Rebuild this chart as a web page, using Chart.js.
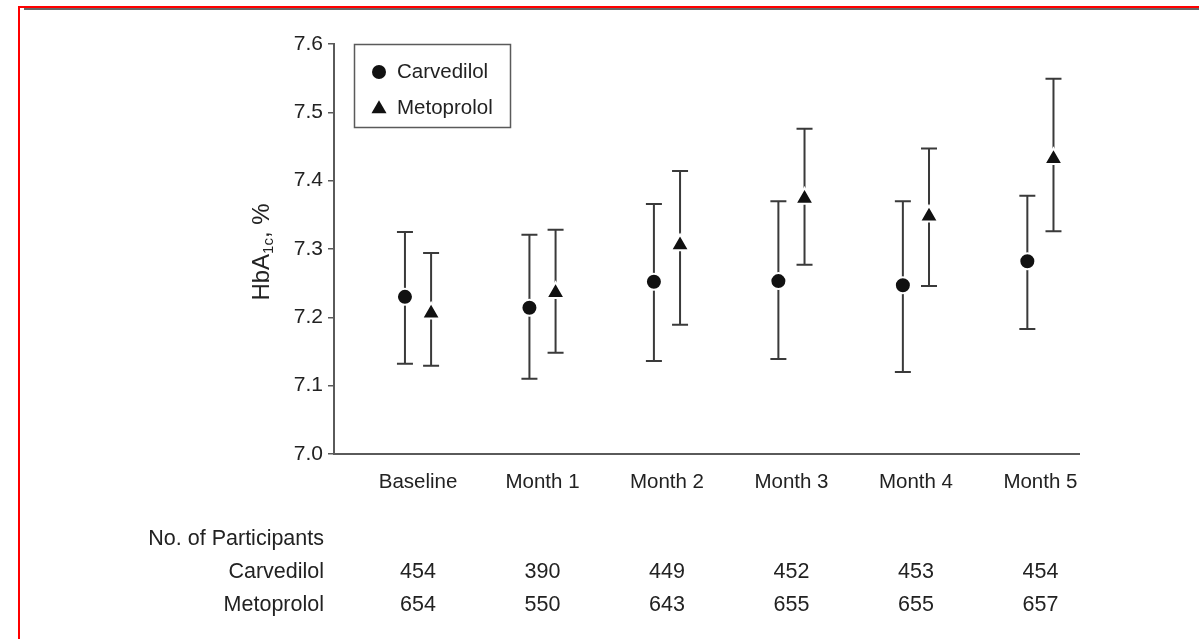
<!DOCTYPE html>
<html>
<head>
<meta charset="utf-8">
<script src="https://cdn.jsdelivr.net/npm/chart.js@4.4.1/dist/chart.umd.min.js"></script>
<style>
  html, body { margin: 0; padding: 0; background: #fff; }
  #wrap { position: relative; width: 1199px; height: 639px; overflow: hidden; }
  canvas { position: absolute; left: 0; top: 0; }
  #frame { position: absolute; left: 18px; top: 6px; right: -4px; bottom: -4px; border-top: 2px solid #f00; border-left: 2px solid #f00; pointer-events: none; }
  #rule { position: absolute; left: 24px; top: 8px; right: 0; height: 2px; background: #666; }
</style>
</head>
<body>
<div id="wrap">
  <canvas id="chart" width="1199" height="639"></canvas>
  <div id="frame"></div>
  <div id="rule"></div>
</div>
<script>
// categories and axis ticks
const categories = ['Baseline', 'Month 1', 'Month 2', 'Month 3', 'Month 4', 'Month 5'];
const yTicks = [7.0, 7.1, 7.2, 7.3, 7.4, 7.5, 7.6];

// HbA1c mean and 95% CI
const carvMean = [7.230, 7.214, 7.252, 7.253, 7.247, 7.282];
const carvLow  = [7.132, 7.110, 7.136, 7.139, 7.120, 7.183];
const carvHigh = [7.325, 7.321, 7.366, 7.370, 7.370, 7.378];

const metoMean = [7.206, 7.236, 7.306, 7.374, 7.348, 7.432];
const metoLow  = [7.129, 7.148, 7.189, 7.277, 7.246, 7.326];
const metoHigh = [7.294, 7.328, 7.414, 7.476, 7.447, 7.549];

// participants per visit
const carvN = [454, 390, 449, 452, 453, 454];
const metoN = [654, 550, 643, 655, 655, 657];

const FONT = '"Liberation Sans", Arial, Helvetica, sans-serif';
const INK = '#222';
const AXIS = '#5a5a5a';
const pairOffset = 0.105;

// whiskers with caps, drawn under the markers
const errorBars = {
  id: 'errorBars',
  beforeDatasetsDraw(chart) {
    const { ctx } = chart;
    const y = chart.scales.y;
    ctx.save();
    ctx.strokeStyle = '#3a3a3a';
    ctx.lineWidth = 2;
    chart.data.datasets.forEach((ds, di) => {
      const meta = chart.getDatasetMeta(di);
      meta.data.forEach((pt, i) => {
        const top = y.getPixelForValue(ds.errHigh[i]);
        const bot = y.getPixelForValue(ds.errLow[i]);
        ctx.beginPath();
        ctx.moveTo(pt.x, top); ctx.lineTo(pt.x, bot);
        ctx.moveTo(pt.x - 8, top); ctx.lineTo(pt.x + 8, top);
        ctx.moveTo(pt.x - 8, bot); ctx.lineTo(pt.x + 8, bot);
        ctx.stroke();
      });
    });
    ctx.restore();
  }
};

// boxed legend in the top-left of the plot
const boxLegend = {
  id: 'boxLegend',
  afterDraw(chart) {
    const { ctx, chartArea } = chart;
    const x = chartArea.left + 20, y = chartArea.top;
    ctx.save();
    ctx.strokeStyle = AXIS;
    ctx.lineWidth = 1.5;
    ctx.strokeRect(x + 0.5, y + 0.5, 156, 83);
    ctx.fillStyle = '#111';
    // circle
    ctx.beginPath();
    ctx.arc(x + 25, y + 28, 7, 0, Math.PI * 2);
    ctx.fill();
    // triangle
    const tx = x + 25, ty = y + 65, r = 8.7;
    ctx.beginPath();
    ctx.moveTo(tx, ty - r);
    ctx.lineTo(tx + r * 0.866, ty + r / 2);
    ctx.lineTo(tx - r * 0.866, ty + r / 2);
    ctx.closePath();
    ctx.fill();
    ctx.fillStyle = INK;
    ctx.font = '20.5px ' + FONT;
    ctx.textBaseline = 'middle';
    ctx.textAlign = 'left';
    chart.data.datasets.forEach((ds, i) => {
      ctx.fillText(ds.label, x + 43, y + 28 + i * 36);
    });
    ctx.restore();
  }
};

// rotated y title with subscript
const yTitle = {
  id: 'yTitle',
  afterDraw(chart) {
    const { ctx } = chart;
    const parts = [
      { t: 'HbA', f: '24px ' + FONT, dy: 0 },
      { t: '1c', f: '15px ' + FONT, dy: 7 },
      { t: ', %', f: '24px ' + FONT, dy: 0 }
    ];
    ctx.save();
    ctx.translate(262, 252);
    ctx.rotate(-Math.PI / 2);
    ctx.fillStyle = INK;
    ctx.textBaseline = 'middle';
    ctx.textAlign = 'left';
    let total = 0;
    parts.forEach(p => { ctx.font = p.f; p.w = ctx.measureText(p.t).width; total += p.w; });
    let cx = -total / 2;
    parts.forEach(p => { ctx.font = p.f; ctx.fillText(p.t, cx, p.dy); cx += p.w; });
    ctx.restore();
  }
};

// participants table under the x axis
const countTable = {
  id: 'countTable',
  afterDraw(chart) {
    const { ctx } = chart;
    const xs = chart.scales.x;
    ctx.save();
    ctx.fillStyle = INK;
    ctx.font = '21.5px ' + FONT;
    ctx.textBaseline = 'middle';
    ctx.textAlign = 'right';
    ctx.fillText('No. of Participants', 324, 539);
    ctx.fillText('Carvedilol', 324, 572);
    ctx.fillText('Metoprolol', 324, 605);
    ctx.textAlign = 'center';
    categories.forEach((c, i) => {
      const px = xs.getPixelForValue(i);
      ctx.fillText(String(carvN[i]), px, 572);
      ctx.fillText(String(metoN[i]), px, 605);
    });
    ctx.restore();
  }
};

new Chart(document.getElementById('chart'), {
  type: 'scatter',
  data: {
    datasets: [
      {
        label: 'Carvedilol',
        data: carvMean.map((v, i) => ({ x: i - pairOffset, y: v })),
        errLow: carvLow,
        errHigh: carvHigh,
        pointStyle: 'circle',
        pointRadius: 8,
        backgroundColor: '#111',
        borderColor: '#fff',
        borderWidth: 2
      },
      {
        label: 'Metoprolol',
        data: metoMean.map((v, i) => ({ x: i + pairOffset, y: v })),
        errLow: metoLow,
        errHigh: metoHigh,
        pointStyle: 'triangle',
        pointRadius: 10.5,
        backgroundColor: '#111',
        borderColor: '#fff',
        borderWidth: 2
      }
    ]
  },
  options: {
    responsive: false,
    animation: false,
    events: [],
    layout: { padding: { left: 0, top: 44, right: 120, bottom: 0 } },
    plugins: {
      legend: { display: false },
      tooltip: { enabled: false }
    },
    scales: {
      x: {
        type: 'linear',
        min: -0.675,
        max: 5.31,
        afterBuildTicks: s => { s.ticks = categories.map((c, i) => ({ value: i })); },
        afterFit: s => { s.height = 185; },
        grid: { display: false, drawTicks: false },
        border: { display: true, color: AXIS, width: 2 },
        ticks: {
          autoSkip: false,
          maxRotation: 0,
          padding: 16,
          color: INK,
          font: { family: FONT, size: 20.5 },
          callback: v => categories[v] ?? ''
        }
      },
      y: {
        min: 7.0,
        max: 7.6,
        afterBuildTicks: s => { s.ticks = yTicks.map(v => ({ value: v })); },
        afterFit: s => { s.width = 334; },
        grid: { drawOnChartArea: false, drawTicks: true, tickLength: 6, color: AXIS, lineWidth: 1.5 },
        border: { display: true, color: AXIS, width: 2 },
        ticks: {
          padding: 5,
          color: INK,
          font: { family: FONT, size: 21 },
          callback: v => v.toFixed(1)
        }
      }
    }
  },
  plugins: [errorBars, boxLegend, yTitle, countTable]
});
</script>
</body>
</html>
